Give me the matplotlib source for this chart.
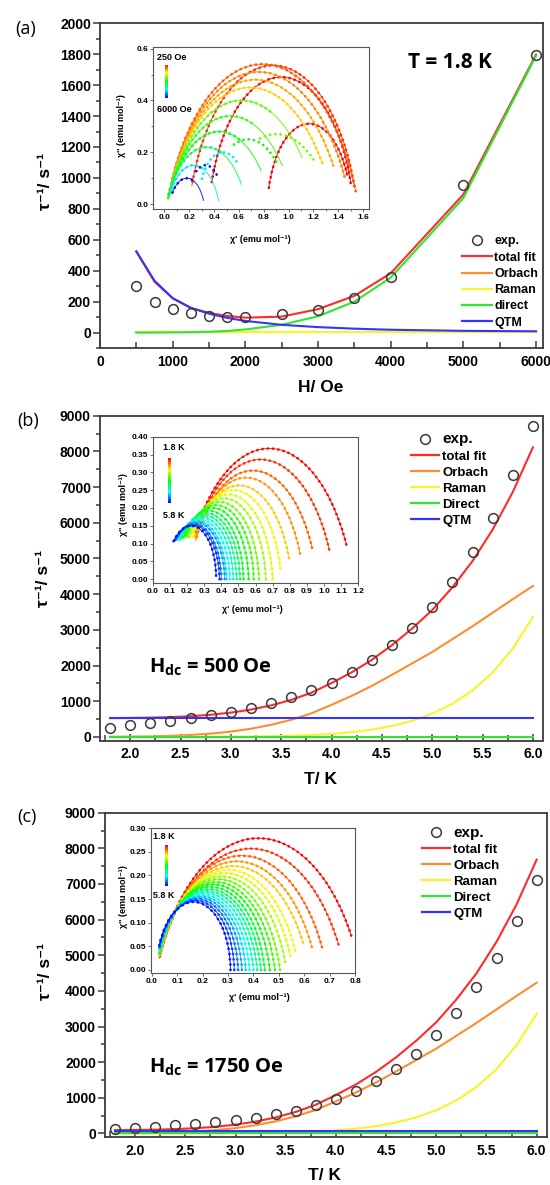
import numpy as np
import matplotlib
matplotlib.use("Agg")
import matplotlib.pyplot as plt
from matplotlib.patches import Arc
from matplotlib.lines import Line2D
from matplotlib.ticker import MultipleLocator, FormatStrFormatter
from matplotlib.colors import ListedColormap

plt.rcParams['font.family'] = ['Liberation Sans', 'DejaVu Sans']
plt.rcParams['font.weight'] = 'bold'
plt.rcParams['mathtext.fontset'] = 'custom'
plt.rcParams['mathtext.rm'] = 'Open Sans'
plt.rcParams['mathtext.bf'] = 'Open Sans:bold'

# ---------------- data ----------------
# (a) field dependence at 1.8 K
H_field = [500, 750, 1000, 1250, 1500, 1750, 2000, 2500, 3000, 3500, 4000, 5000, 6000]
rate_a_exp = [300, 200, 151, 125, 108, 99, 103, 121, 146, 222, 361, 957, 1798]
fit_a_total = [523, 329, 222, 158, 127, 107, 96, 103, 151, 237, 383, 893, 1798]
fit_a_orbach = [1, 1, 1, 1, 1, 1, 1, 1, 1, 1, 1, 1, 1]
fit_a_raman = [3, 3, 3, 3, 3, 3, 3, 3, 3, 3, 3, 3, 3]
fit_a_direct = [0, 0, 1, 2, 5, 10, 20, 50, 105, 200, 355, 870, 1790]
fit_a_qtm = [525, 335, 222, 160, 122, 95, 75, 50, 35, 25, 18, 11, 8]

# (b), (c) temperature dependence
T_rate = [1.8, 2.0, 2.2, 2.4, 2.6, 2.8, 3.0, 3.2, 3.4, 3.6, 3.8, 4.0,
          4.2, 4.4, 4.6, 4.8, 5.0, 5.2, 5.4, 5.6, 5.8, 6.0]
fit_orbach = [3, 8, 15, 30, 55, 92, 150, 230, 340, 480, 660, 900,
              1150, 1430, 1740, 2060, 2380, 2740, 3100, 3480, 3860, 4230]
fit_raman = [0, 0, 1, 1, 2, 4, 7, 12, 20, 34, 55, 87,
             136, 206, 307, 451, 651, 928, 1302, 1806, 2477, 3361]

rate_b_exp = [263, 328, 393, 449, 533, 627, 701, 813, 953, 1121, 1308, 1523,
              1822, 2168, 2569, 3064, 3642, 4342, 5182, 6145, 7350, 8703]
fit_b_total = [527, 532, 540, 555, 581, 620, 681, 766, 884, 1038, 1239, 1511,
               1810, 2160, 2571, 3035, 3555, 4192, 4926, 5810, 6861, 8115]
fit_b_direct = [5, 5, 5, 5, 5, 5, 5, 5, 5, 5, 5, 5, 5, 5, 5, 5, 5, 5, 5, 5, 5, 5]
fit_b_qtm = [524, 524, 524, 524, 524, 524, 524, 524, 524, 524, 524, 524,
             524, 524, 524, 524, 524, 524, 524, 524, 524, 524]

rate_c_exp = [131, 159, 178, 225, 272, 318, 365, 440, 534, 627, 787, 974,
              1189, 1470, 1817, 2238, 2772, 3380, 4110, 4935, 5955, 7107]
fit_c_total = [93, 98, 106, 121, 147, 186, 247, 332, 450, 604, 805, 1077,
               1376, 1726, 2137, 2601, 3121, 3758, 4492, 5376, 6427, 7681]
fit_c_direct = [20, 20, 20, 20, 20, 20, 20, 20, 20, 20, 20, 20,
                20, 20, 20, 20, 20, 20, 20, 20, 20, 20]
fit_c_qtm = [70, 70, 70, 70, 70, 70, 70, 70, 70, 70, 70, 70,
             70, 70, 70, 70, 70, 70, 70, 70, 70, 70]

# insets: Cole-Cole arcs (left/right chi' intercept, height, visible range)
arc_a_x0 = [0.83, 0.36, 0.20, 0.02, 0.02, 0.02, 0.02, 0.02, 0.02, 0.02, 0.02, 0.03, 0.04]
arc_a_x1 = [1.50, 1.52, 1.55, 1.56, 1.50, 1.44, 1.36, 1.22, 1.04, 0.86, 0.66, 0.44, 0.32]
arc_a_h = [0.31, 0.49, 0.535, 0.54, 0.51, 0.48, 0.45, 0.40, 0.34, 0.28, 0.22, 0.15, 0.10]
arc_a_start = [0.84, 0.38, 0.22, 0.03, 0.03, 0.03, 0.03, 0.03, 0.03, 0.03, 0.03, 0.05, 0.06]
arc_a_end = [1.47, 1.50, 1.53, 1.54, 1.45, 1.36, 1.27, 1.11, 0.95, 0.78, 0.62, 0.436, 0.315]
dots_a_end = [1.47, 1.50, 1.53, 1.54, 1.45, 1.36, 1.27, 0.85, 0.70, 0.60, 0.45, 0.30, 0.22]
hue_a = [0.0, 0.0, 0.05, 0.09, 0.13, 0.17, 0.21, 0.42, 0.46, 0.52, 0.58, 0.78, 1.0]
hump_a_x0 = [0.45, 0.35, 0.28, 0.20]
hump_a_x1 = [1.35, 1.00, 0.66, 0.46]
hump_a_h = [0.27, 0.25, 0.20, 0.15]
hump_a_start = [0.75, 0.55, 0.30, 0.24]
hump_a_end = [1.20, 0.90, 0.58, 0.42]
hump_a_hue = [0.40, 0.50, 0.78, 1.0]

T_ac = [1.8, 2.0, 2.2, 2.4, 2.6, 2.8, 3.0, 3.2, 3.4, 3.6, 3.8,
        4.0, 4.2, 4.4, 4.6, 4.8, 5.0, 5.2, 5.4, 5.6, 5.8]
arc_b_x0 = [0.19, 0.20, 0.21, 0.21, 0.20, 0.19, 0.18, 0.17, 0.16, 0.15, 0.14,
            0.13, 0.12, 0.115, 0.11, 0.10, 0.095, 0.09, 0.085, 0.08, 0.08]
arc_b_x1 = [1.17, 1.06, 0.96, 0.88, 0.81, 0.75, 0.70, 0.66, 0.62, 0.59, 0.56,
            0.53, 0.51, 0.49, 0.47, 0.45, 0.43, 0.42, 0.40, 0.39, 0.37]
arc_b_h = [0.367, 0.336, 0.305, 0.285, 0.263, 0.250, 0.238, 0.227, 0.217, 0.208, 0.200,
           0.192, 0.185, 0.179, 0.173, 0.168, 0.163, 0.159, 0.155, 0.152, 0.150]
arc_b_start = [0.25, 0.25, 0.25, 0.25, 0.24, 0.23, 0.22, 0.21, 0.20, 0.19, 0.18,
               0.17, 0.16, 0.155, 0.15, 0.145, 0.14, 0.135, 0.13, 0.125, 0.12]
arc_b_end = [1.13, 1.03, 0.93, 0.86, 0.795, 0.745, 0.70, 0.66, 0.62, 0.59, 0.56,
             0.53, 0.51, 0.49, 0.47, 0.45, 0.43, 0.42, 0.40, 0.39, 0.37]

arc_c_x0 = [0.02, 0.02, 0.02, 0.02, 0.02, 0.02, 0.02, 0.02, 0.02, 0.02, 0.02,
            0.02, 0.02, 0.02, 0.02, 0.02, 0.02, 0.02, 0.02, 0.02, 0.02]
arc_c_x1 = [0.82, 0.76, 0.69, 0.65, 0.62, 0.58, 0.555, 0.53, 0.505, 0.485, 0.465,
            0.445, 0.43, 0.415, 0.40, 0.385, 0.37, 0.355, 0.34, 0.325, 0.31]
arc_c_h = [0.279, 0.257, 0.242, 0.230, 0.220, 0.212, 0.205, 0.198, 0.192, 0.186, 0.181,
           0.176, 0.171, 0.167, 0.163, 0.159, 0.156, 0.153, 0.150, 0.147, 0.144]
arc_c_start = [0.03, 0.03, 0.03, 0.03, 0.03, 0.03, 0.03, 0.03, 0.03, 0.03, 0.03,
               0.03, 0.03, 0.03, 0.03, 0.03, 0.03, 0.03, 0.03, 0.03, 0.03]
arc_c_end = [0.785, 0.735, 0.67, 0.63, 0.595, 0.565, 0.545, 0.525, 0.505, 0.485, 0.465,
             0.445, 0.43, 0.415, 0.40, 0.385, 0.37, 0.355, 0.34, 0.325, 0.31]

# ---------------- style ----------------
RED = '#ff2a2a'
ORANGE = '#ff8c2e'
YELLOW = '#f5f52a'
GREEN = '#2ee62e'
BLUE = '#3434ff'
rain_cmap = ListedColormap(plt.cm.hsv(np.linspace(0, 0.667, 256)))

W, H = 550, 1185
fig = plt.figure(figsize=(W / 100, H / 100), dpi=100)


def px_axes(l, t, r, b):
    return fig.add_axes([l / W, 1 - b / H, (r - l) / W, (b - t) / H])


def ftext(x, y, s, **kw):
    return fig.text(x / W, 1 - y / H, s, **kw)


def style_main(ax):
    for s in ax.spines.values():
        s.set_color('#3a3a3a')
        s.set_linewidth(1.3)
    ax.tick_params(axis='y', which='both', direction='out', right=False,
                   labelsize=10, width=1.1, pad=1.5, color='#3a3a3a')
    ax.tick_params(axis='y', which='major', length=5)
    ax.tick_params(axis='y', which='minor', length=3)
    ax.tick_params(axis='x', which='both', direction='in', top=False,
                   labelsize=10, width=1.1, pad=5, color='#3a3a3a')
    ax.tick_params(axis='x', which='major', length=5)
    ax.tick_params(axis='x', which='minor', length=4)


def style_inset(ax):
    for s in ax.spines.values():
        s.set_color('#555555')
        s.set_linewidth(0.8)
    ax.tick_params(which='both', direction='out', labelsize=6, width=0.6,
                   pad=1, top=False, right=False, color='#555555')
    ax.tick_params(which='major', length=2.5)
    ax.tick_params(which='minor', length=1.5)


def draw_arcs(ax, x0s, x1s, hs, starts, ends, hues, dot_ends=None, fit=True):
    for i in range(len(x0s)):
        xc = (x0s[i] + x1s[i]) / 2
        a = (x1s[i] - x0s[i]) / 2
        r = (a * a + hs[i] * hs[i]) / (2 * hs[i])
        yc = hs[i] - r
        th_s = np.degrees(np.arccos(np.clip((starts[i] - xc) / r, -1, 1)))
        th_e = np.degrees(np.arccos(np.clip((ends[i] - xc) / r, -1, 1)))
        col = rain_cmap(hues[i])
        if fit:
            ax.add_patch(Arc((xc, yc), 2 * r, 2 * r, theta1=th_e, theta2=th_s,
                             color=col, lw=0.7, alpha=0.9))
        de = ends[i] if dot_ends is None else dot_ends[i]
        th_d = np.degrees(np.arccos(np.clip((de - xc) / r, -1, 1)))
        dots = Arc((xc, yc), 2 * r, 2 * r, theta1=th_d, theta2=th_s, color=col,
                   lw=2.0, linestyle=(0, (0.01, 1.9)))
        dots.set_capstyle('round')
        ax.add_patch(dots)


def grad_bar(x, y0, y1):
    cax = px_axes(x - 1.2, y0, x + 1.2, y1)
    cax.imshow(np.linspace(0, 1, 64)[:, None], cmap=rain_cmap, aspect='auto')
    cax.axis('off')


def legend_handles():
    return [
        Line2D([], [], ls='none', marker='o', mfc='none', mec='#3a3a3a', ms=7, mew=1.1),
        Line2D([], [], color=RED, lw=1.6),
        Line2D([], [], color=ORANGE, lw=1.6),
        Line2D([], [], color=YELLOW, lw=1.6),
        Line2D([], [], color=GREEN, lw=1.6),
        Line2D([], [], color=BLUE, lw=1.6),
    ]


open_font = ['Open Sans', 'DejaVu Sans']

# ================= panel (a) =================
ax = px_axes(100, 23.3, 543.3, 348)
ax.plot(H_field, fit_a_total, color=RED, lw=1.5, zorder=3)
ax.plot(H_field, fit_a_orbach, color=ORANGE, lw=1.5, zorder=3)
ax.plot(H_field, fit_a_raman, color=YELLOW, lw=1.5, zorder=3)
ax.plot(H_field, fit_a_direct, color=GREEN, lw=1.5, zorder=3)
ax.plot(H_field, fit_a_qtm, color=BLUE, lw=1.5, zorder=3)
ax.plot(H_field, rate_a_exp, 'o', mfc='none', mec='#3a3a3a', ms=7, mew=1.1, zorder=4)
ax.set_xlim(0, 6100)
ax.set_ylim(-100, 2000)
ax.xaxis.set_major_locator(MultipleLocator(1000))
ax.xaxis.set_minor_locator(MultipleLocator(500))
ax.yaxis.set_major_locator(MultipleLocator(200))
ax.yaxis.set_minor_locator(MultipleLocator(100))
style_main(ax)
labels = ['exp.', 'total fit', 'Orbach', 'Raman', 'direct', 'QTM']
leg = ax.legend(legend_handles(), labels, loc='upper left',
                bbox_to_anchor=(462 / W, 1 - 235.5 / H), bbox_transform=fig.transFigure,
                frameon=False, fontsize=9, borderpad=0, borderaxespad=0,
                handlelength=2.4, handletextpad=0.2, labelspacing=0.34)
ftext(450, 63, 'T = 1.8 K', family=open_font, fontsize=15, ha='center', va='center')
ftext(26, 29, '(a)', family=open_font, fontsize=13, weight='normal', ha='center', va='center')
ftext(321, 387, 'H/ Oe', fontsize=12.5, ha='center', va='center')
ftext(45, 182, 'τ⁻¹/ s⁻¹', fontsize=12.5, rotation=90, ha='center', va='center')

# inset (a)
ia = px_axes(153.3, 47.3, 369.3, 209.3)
draw_arcs(ia, arc_a_x0, arc_a_x1, arc_a_h, arc_a_start, arc_a_end, hue_a, dots_a_end)
draw_arcs(ia, hump_a_x0, hump_a_x1, hump_a_h, hump_a_start, hump_a_end, hump_a_hue, fit=False)
ia.set_xlim(-0.09, 1.65)
ia.set_ylim(-0.02, 0.605)
ia.xaxis.set_major_locator(MultipleLocator(0.2))
ia.xaxis.set_minor_locator(MultipleLocator(0.1))
ia.yaxis.set_major_locator(MultipleLocator(0.2))
ia.yaxis.set_minor_locator(MultipleLocator(0.1))
ia.xaxis.set_major_formatter(FormatStrFormatter('%.1f'))
ia.yaxis.set_major_formatter(FormatStrFormatter('%.1f'))
style_inset(ia)
ftext(260, 240, "χ' (emu mol⁻¹)", fontsize=6.5, ha='center', va='center')
ftext(121, 126, "χ'' (emu mol⁻¹)", fontsize=6.5, rotation=90, ha='center', va='center')
grad_bar(165.7, 65, 98.3)
ftext(156.7, 57.7, '250 Oe', fontsize=6.5, ha='left', va='center')
ftext(157.3, 110, '6000 Oe', fontsize=6.5, ha='left', va='center')

# ================= panels (b), (c) =================
panels = [
    dict(box=(100, 415.7, 543, 740.5), exp=rate_b_exp, total=fit_b_total,
         direct=fit_b_direct, qtm=fit_b_qtm, tag='(b)', tag_xy=(28, 421),
         hdc=r'H$_{\mathbf{dc}}$ = 500 Oe', hdc_xy=(149, 667),
         xl_xy=(321, 780), yl_xy=(43, 578), leg=(411, 432.5),
         labels=['exp.', 'total fit', 'Orbach', 'Raman', 'Direct', 'QTM']),
    dict(box=(105, 812.7, 546.7, 1137), exp=rate_c_exp, total=fit_c_total,
         direct=fit_c_direct, qtm=fit_c_qtm, tag='(c)', tag_xy=(27, 817),
         hdc=r'H$_{\mathbf{dc}}$ = 1750 Oe', hdc_xy=(149, 1067),
         xl_xy=(324, 1176), yl_xy=(46, 972), leg=(422, 825.5),
         labels=['exp.', 'total fit', 'Orbach', 'Raman', 'Direct', 'QTM']),
]

for p in panels:
    ax = px_axes(*p['box'])
    ax.plot(T_rate, p['total'], color=RED, lw=1.5, zorder=3)
    ax.plot(T_rate, fit_orbach, color=ORANGE, lw=1.5, zorder=3)
    ax.plot(T_rate, fit_raman, color=YELLOW, lw=1.5, zorder=3)
    ax.plot(T_rate, p['direct'], color=GREEN, lw=1.5, zorder=3)
    ax.plot(T_rate, p['qtm'], color=BLUE, lw=1.5, zorder=3)
    ax.plot(T_rate, p['exp'], 'o', mfc='none', mec='#3a3a3a', ms=7, mew=1.1, zorder=4)
    ax.set_xlim(1.7, 6.1)
    ax.set_ylim(-100, 9000)
    ax.xaxis.set_major_locator(MultipleLocator(0.5))
    ax.xaxis.set_minor_locator(MultipleLocator(0.25))
    ax.yaxis.set_major_locator(MultipleLocator(1000))
    ax.yaxis.set_minor_locator(MultipleLocator(500))
    ax.xaxis.set_major_formatter(FormatStrFormatter('%.1f'))
    style_main(ax)
    leg = ax.legend(legend_handles(), p['labels'], loc='upper left',
                    bbox_to_anchor=(p['leg'][0] / W, 1 - p['leg'][1] / H),
                    bbox_transform=fig.transFigure, frameon=False, fontsize=9.5,
                    borderpad=0, borderaxespad=0, handlelength=2.1,
                    handletextpad=0.25, labelspacing=0.29)
    leg.get_texts()[0].set_fontsize(11)
    ftext(*p['tag_xy'], p['tag'], family=open_font, fontsize=13, weight='normal',
          ha='center', va='center')
    ftext(*p['hdc_xy'], p['hdc'], family=open_font, fontsize=14.5, ha='left', va='center')
    ftext(*p['xl_xy'], 'T/ K', fontsize=12.5, ha='center', va='center')
    ftext(*p['yl_xy'], 'τ⁻¹/ s⁻¹', fontsize=12.5, rotation=90, ha='center', va='center')

# inset (b)
ib = px_axes(152.7, 436.7, 358.3, 582.7)
draw_arcs(ib, arc_b_x0, arc_b_x1, arc_b_h, arc_b_start, arc_b_end,
          [(t - 1.8) / 4.0 for t in T_ac])
ib.set_xlim(0, 1.2)
ib.set_ylim(-0.01, 0.40)
ib.xaxis.set_major_locator(MultipleLocator(0.1))
ib.yaxis.set_major_locator(MultipleLocator(0.05))
ib.xaxis.set_major_formatter(FormatStrFormatter('%.1f'))
ib.yaxis.set_major_formatter(FormatStrFormatter('%.2f'))
style_inset(ib)
ftext(252, 610, "χ' (emu mol⁻¹)", fontsize=6.5, ha='center', va='center')
ftext(124, 505, "χ'' (emu mol⁻¹)", fontsize=6.5, rotation=90, ha='center', va='center')
grad_bar(169, 458.3, 502.7)
ftext(162.7, 447.3, '1.8 K', fontsize=6.5, ha='left', va='center')
ftext(162.7, 516, '5.8 K', fontsize=6.5, ha='left', va='center')

# inset (c)
ic = px_axes(150.7, 828.3, 355, 972.7)
draw_arcs(ic, arc_c_x0, arc_c_x1, arc_c_h, arc_c_start, arc_c_end,
          [(t - 1.8) / 4.0 for t in T_ac])
ic.set_xlim(-0.004, 0.8)
ic.set_ylim(-0.006, 0.30)
ic.xaxis.set_major_locator(MultipleLocator(0.1))
ic.yaxis.set_major_locator(MultipleLocator(0.05))
ic.xaxis.set_major_formatter(FormatStrFormatter('%.1f'))
ic.yaxis.set_major_formatter(FormatStrFormatter('%.2f'))
style_inset(ic)
ftext(259, 998, "χ' (emu mol⁻¹)", fontsize=6.5, ha='center', va='center')
ftext(123, 897, "χ'' (emu mol⁻¹)", fontsize=6.5, rotation=90, ha='center', va='center')
grad_bar(165.7, 845, 886)
ftext(153.3, 836.7, '1.8 K', fontsize=6.5, ha='left', va='center')
ftext(153.3, 895.7, '5.8 K', fontsize=6.5, ha='left', va='center')

fig.savefig('out.png', dpi=100, facecolor='white')
